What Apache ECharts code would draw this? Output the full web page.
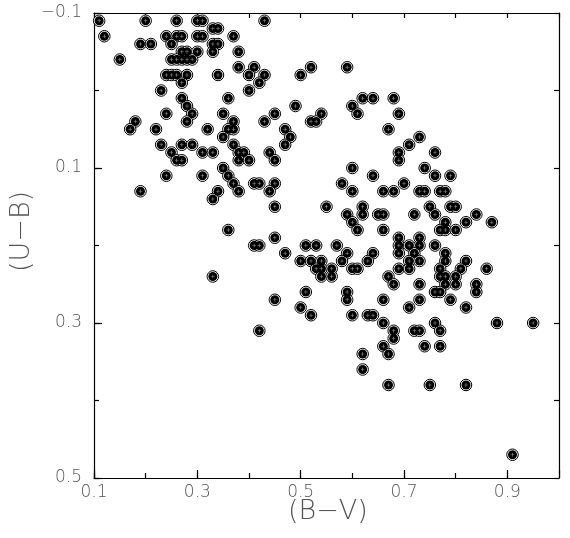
<!DOCTYPE html>
<html>
<head>
<meta charset="utf-8">
<script src="https://cdn.jsdelivr.net/npm/echarts@6/dist/echarts.min.js"></script>
<style>
html,body{margin:0;padding:0;background:#fff;}
#chart{width:570px;height:538px;}
</style>
</head>
<body>
<div id="chart"></div>
<script>
// (U-B) value of each row of points
var ubRows = [-0.09,-0.08,-0.07,-0.06,-0.05,-0.04,-0.03,-0.02,-0.01,0.00,
  0.01,0.02,0.03,0.04,0.05,0.06,0.07,0.08,0.09,0.10,
  0.11,0.12,0.13,0.14,0.15,0.16,0.17,0.18,0.19,0.20,
  0.21,0.22,0.23,0.24,0.25,0.26,0.27,0.28,0.29,0.30,
  0.31,0.32,0.33,0.34,0.36,0.38,0.47];
// (B-V) values of the points in each row
var bvRows = [
  [0.11,0.20,0.26,0.30,0.31,0.43],
  [0.33,0.34],
  [0.12,0.24,0.26,0.27,0.30,0.31,0.37],
  [0.19,0.21,0.25,0.33,0.34],
  [0.27,0.28,0.30,0.33,0.38],
  [0.15,0.25,0.26,0.27,0.28,0.29],
  [0.38,0.41,0.52,0.59],
  [0.24,0.25,0.26,0.28,0.34,0.40,0.43,0.50],
  [0.27,0.42],
  [0.23,0.40],
  [0.27,0.36,0.62,0.64,0.68],
  [0.28,0.49,0.60],
  [0.24,0.29,0.35,0.45,0.54,0.61,0.69],
  [0.18,0.28,0.37,0.43,0.52,0.53],
  [0.17,0.22,0.32,0.36,0.37,0.47,0.67],
  [0.35,0.48,0.73],
  [0.23,0.27,0.29,0.37,0.47,0.71],
  [0.25,0.31,0.33,0.38,0.39,0.44,0.69,0.76],
  [0.26,0.27,0.38,0.40,0.45,0.69],
  [0.35,0.60,0.74],
  [0.24,0.31,0.36,0.64,0.76,0.79],
  [0.37,0.41,0.42,0.45,0.58,0.70],
  [0.19,0.34,0.38,0.44,0.60,0.66,0.68,0.73,0.74,0.77,0.78],
  [0.33],
  [0.45,0.55,0.62,0.75,0.79,0.80],
  [0.59,0.62,0.65,0.66,0.72,0.76,0.84],
  [0.60,0.78,0.82,0.87],
  [0.36,0.61,0.66,0.77,0.78,0.80],
  [0.45,0.69,0.73],
  [0.41,0.42,0.51,0.53,0.57,0.69,0.71,0.73,0.76],
  [0.47,0.59,0.64,0.69,0.72,0.78],
  [0.50,0.52,0.54,0.58,0.63,0.71,0.73,0.78,0.82],
  [0.53,0.54,0.56,0.60,0.61,0.69,0.71,0.77,0.81,0.86],
  [0.33,0.54,0.56,0.67,0.77,0.78,0.80],
  [0.68,0.73,0.78,0.80,0.84],
  [0.51,0.59,0.76,0.77,0.84],
  [0.45,0.59,0.66,0.73,0.79],
  [0.50,0.71,0.82],
  [0.52,0.60,0.63,0.64],
  [0.66,0.76,0.88,0.95],
  [0.42,0.68,0.72,0.73,0.77],
  [0.68],
  [0.66,0.74,0.77],
  [0.62,0.67],
  [0.62],
  [0.67,0.75,0.82],
  [0.91]
];
var xTickLabels = ['0.1','0.3','0.5','0.7','0.9'];
var yTickLabels = ['\u22120.1','0.1','0.3','0.5'];

var points = [];
for (var i = 0; i < ubRows.length; i++) {
  for (var j = 0; j < bvRows[i].length; j++) {
    points.push([bvRows[i][j], ubRows[i]]);
  }
}

var FONT = 'DejaVu Sans';
var LBL = '#555';
function fmtY(v) {
  var k = Math.round(v * 10);
  if (Math.abs(k % 2) !== 1) return '';
  var idx = (k + 1) / 2;
  return yTickLabels[idx] || '';
}
function fmtX(v) {
  var k = Math.round(v * 10);
  if (k % 2 !== 1) return '';
  return xTickLabels[(k - 1) / 2] || '';
}
var lineStyle = {color: '#000', width: 1.2};

var chart = echarts.init(document.getElementById('chart'));
chart.setOption({
  animation: false,
  backgroundColor: '#fff',
  grid: {left: 94, top: 13, right: 11, bottom: 60, show: false},
  xAxis: [
    {type: 'value', position: 'bottom', min: 0.1, max: 1.0, interval: 0.1,
     axisLine: {show: true, onZero: false, lineStyle: lineStyle},
     axisTick: {show: true, inside: true, length: 5, lineStyle: lineStyle},
     axisLabel: {formatter: fmtX, color: LBL, fontFamily: FONT, fontSize: 17, fontWeight: 'lighter', margin: 6, showMaxLabel: false},
     splitLine: {show: false}},
    {type: 'value', position: 'bottom', min: 0.1, max: 1.0, interval: 0.2,
     axisLine: {show: false, onZero: false},
     axisTick: {show: true, inside: true, length: 8, lineStyle: lineStyle},
     axisLabel: {show: false}, splitLine: {show: false}},
    {type: 'value', position: 'top', min: 0.1, max: 1.0, interval: 0.1,
     axisLine: {show: true, onZero: false, lineStyle: lineStyle},
     axisTick: {show: true, inside: true, length: 5, lineStyle: lineStyle},
     axisLabel: {show: false}, splitLine: {show: false}}
  ],
  yAxis: [
    {type: 'value', position: 'left', inverse: true, min: -0.1, max: 0.5, interval: 0.1,
     axisLine: {show: true, onZero: false, lineStyle: lineStyle},
     axisTick: {show: true, inside: true, length: 5, lineStyle: lineStyle},
     axisLabel: {formatter: fmtY, color: LBL, fontFamily: FONT, fontSize: 17, fontWeight: 'lighter', margin: 12},
     splitLine: {show: false}},
    {type: 'value', position: 'left', inverse: true, min: -0.1, max: 0.5, interval: 0.2,
     axisLine: {show: false, onZero: false},
     axisTick: {show: true, inside: true, length: 8, lineStyle: lineStyle},
     axisLabel: {show: false}, splitLine: {show: false}},
    {type: 'value', position: 'right', inverse: true, min: -0.1, max: 0.5, interval: 0.1,
     axisLine: {show: true, onZero: false, lineStyle: lineStyle},
     axisTick: {show: true, inside: true, length: 5, lineStyle: lineStyle},
     axisLabel: {show: false}, splitLine: {show: false}}
  ],
  graphic: [
    {type: 'text', left: 288, top: 498,
     style: {text: '(B\u2212V)', fill: LBL, font: 'lighter 27px "DejaVu Sans"'}},
    {type: 'text', x: 8, y: 272, rotation: Math.PI / 2,
     style: {text: '(U\u2212B)', fill: LBL, font: 'lighter 27px "DejaVu Sans"'}}
  ],
  series: [
    {type: 'scatter', xAxisIndex: 0, yAxisIndex: 0, data: points, symbol: 'circle', symbolSize: 11.5,
     itemStyle: {color: '#fff', borderColor: '#000', borderWidth: 1, opacity: 1}, silent: true, z: 2},
    {type: 'scatter', xAxisIndex: 0, yAxisIndex: 0, data: points, symbol: 'circle', symbolSize: 9,
     itemStyle: {color: '#000', opacity: 1}, silent: true, z: 3},
    {type: 'scatter', xAxisIndex: 0, yAxisIndex: 0, data: points,
     symbol: 'path://M4,0H6V4H10V6H6V10H4V6H0V4H4Z', symbolSize: 3.5,
     itemStyle: {color: '#fff', opacity: 0.55}, silent: true, z: 4}
  ]
});
</script>
</body>
</html>
